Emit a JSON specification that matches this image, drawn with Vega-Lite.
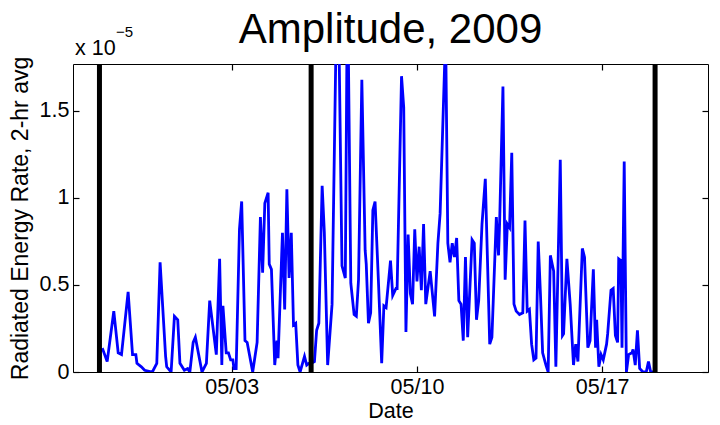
{
  "$schema": "https://vega.github.io/schema/vega-lite/v6.json",
  "width": 635,
  "height": 308,
  "autosize": {"type": "none"},
  "padding": {"left": 73, "top": 64, "right": 12, "bottom": 53},
  "config": {
    "font": "Liberation Sans",
    "view": {"stroke": "black", "strokeWidth": 1},
    "axis": {"domain": false, "grid": false, "offset": -6, "tickColor": "black", "tickSize": 6, "tickWidth": 1.2, "labelColor": "black", "labelFontSize": 21.5, "titleFontSize": 21.5, "titleFontWeight": "normal", "titleColor": "black", "labelFont": "Liberation Sans", "titleFont": "Liberation Sans"}
  },
  "datasets": {
    "energy": [
      {"t": "2009-04-28T00:00", "v": 0.12}, {"t": "2009-04-28T03:00", "v": 0.13}, {"t": "2009-04-28T07:00", "v": 0.06}, {"t": "2009-04-28T13:00", "v": 0.35}, {"t": "2009-04-28T17:00", "v": 0.11}, {"t": "2009-04-28T20:00", "v": 0.10},
      {"t": "2009-04-29T02:00", "v": 0.46}, {"t": "2009-04-29T06:00", "v": 0.10}, {"t": "2009-04-29T09:00", "v": 0.10}, {"t": "2009-04-29T10:00", "v": 0.05}, {"t": "2009-04-29T14:00", "v": 0.03}, {"t": "2009-04-29T17:00", "v": 0.01},
      {"t": "2009-04-30T00:00", "v": 0.0}, {"t": "2009-04-30T04:00", "v": 0.05}, {"t": "2009-04-30T07:00", "v": 0.63}, {"t": "2009-04-30T12:00", "v": 0.09}, {"t": "2009-04-30T13:00", "v": 0.03}, {"t": "2009-04-30T17:00", "v": 0.0}, {"t": "2009-04-30T20:00", "v": 0.32}, {"t": "2009-04-30T23:00", "v": 0.30},
      {"t": "2009-05-01T01:00", "v": 0.05}, {"t": "2009-05-01T05:00", "v": 0.01}, {"t": "2009-05-01T08:00", "v": 0.02}, {"t": "2009-05-01T10:00", "v": 0.0}, {"t": "2009-05-01T13:00", "v": 0.17}, {"t": "2009-05-01T15:00", "v": 0.20}, {"t": "2009-05-01T21:00", "v": 0.0},
      {"t": "2009-05-02T01:00", "v": 0.05}, {"t": "2009-05-02T04:00", "v": 0.41}, {"t": "2009-05-02T10:00", "v": 0.10}, {"t": "2009-05-02T13:00", "v": 0.65}, {"t": "2009-05-02T15:00", "v": 0.04}, {"t": "2009-05-02T16:00", "v": 0.38}, {"t": "2009-05-02T19:00", "v": 0.11}, {"t": "2009-05-02T21:00", "v": 0.11}, {"t": "2009-05-02T23:00", "v": 0.07},
      {"t": "2009-05-03T01:00", "v": 0.07}, {"t": "2009-05-03T02:00", "v": 0.02}, {"t": "2009-05-03T04:00", "v": 0.02}, {"t": "2009-05-03T07:00", "v": 0.82}, {"t": "2009-05-03T09:00", "v": 0.98}, {"t": "2009-05-03T12:00", "v": 0.18}, {"t": "2009-05-03T14:00", "v": 0.17}, {"t": "2009-05-03T19:00", "v": 0.0}, {"t": "2009-05-03T23:00", "v": 0.17},
      {"t": "2009-05-04T02:00", "v": 0.89}, {"t": "2009-05-04T04:00", "v": 0.57}, {"t": "2009-05-04T06:00", "v": 0.97}, {"t": "2009-05-04T09:00", "v": 1.03}, {"t": "2009-05-04T10:00", "v": 0.62}, {"t": "2009-05-04T12:00", "v": 0.59}, {"t": "2009-05-04T15:00", "v": 0.04}, {"t": "2009-05-04T17:00", "v": 0.18}, {"t": "2009-05-04T18:00", "v": 0.08}, {"t": "2009-05-04T22:00", "v": 0.80},
      {"t": "2009-05-05T00:00", "v": 0.36}, {"t": "2009-05-05T02:00", "v": 1.05}, {"t": "2009-05-05T04:00", "v": 0.54}, {"t": "2009-05-05T06:00", "v": 0.80}, {"t": "2009-05-05T08:00", "v": 0.27}, {"t": "2009-05-05T10:00", "v": 0.28}, {"t": "2009-05-05T12:00", "v": 0.04}, {"t": "2009-05-05T14:00", "v": 0.0}, {"t": "2009-05-05T18:00", "v": 0.09}, {"t": "2009-05-05T20:00", "v": 0.04}, {"t": "2009-05-05T22:00", "v": 0.05},
      {"t": "2009-05-06T00:00", "v": 0.05}, {"t": "2009-05-06T03:00", "v": 0.06}, {"t": "2009-05-06T05:00", "v": 0.24}, {"t": "2009-05-06T07:00", "v": 0.28}, {"t": "2009-05-06T10:00", "v": 1.07}, {"t": "2009-05-06T12:00", "v": 0.80}, {"t": "2009-05-06T15:00", "v": 0.04}, {"t": "2009-05-06T19:00", "v": 0.39},
      {"t": "2009-05-07T00:00", "v": 2.5}, {"t": "2009-05-07T04:00", "v": 0.61}, {"t": "2009-05-07T07:00", "v": 0.54}, {"t": "2009-05-07T09:00", "v": 2.3}, {"t": "2009-05-07T12:00", "v": 0.51}, {"t": "2009-05-07T15:00", "v": 0.33}, {"t": "2009-05-07T17:00", "v": 0.32}, {"t": "2009-05-07T19:00", "v": 0.53}, {"t": "2009-05-07T22:00", "v": 1.68},
      {"t": "2009-05-08T01:00", "v": 0.70}, {"t": "2009-05-08T02:00", "v": 0.62}, {"t": "2009-05-08T04:00", "v": 0.28}, {"t": "2009-05-08T06:00", "v": 0.34}, {"t": "2009-05-08T08:00", "v": 0.93}, {"t": "2009-05-08T10:00", "v": 0.98}, {"t": "2009-05-08T13:00", "v": 0.53}, {"t": "2009-05-08T16:00", "v": 0.05}, {"t": "2009-05-08T18:00", "v": 0.38}, {"t": "2009-05-08T20:00", "v": 0.37},
      {"t": "2009-05-09T00:00", "v": 0.64}, {"t": "2009-05-09T02:00", "v": 0.44}, {"t": "2009-05-09T05:00", "v": 0.48}, {"t": "2009-05-09T06:00", "v": 0.48}, {"t": "2009-05-09T10:00", "v": 1.70}, {"t": "2009-05-09T12:00", "v": 1.52}, {"t": "2009-05-09T14:00", "v": 0.23}, {"t": "2009-05-09T16:00", "v": 0.79}, {"t": "2009-05-09T18:00", "v": 0.45}, {"t": "2009-05-09T20:00", "v": 0.39}, {"t": "2009-05-09T22:00", "v": 0.82},
      {"t": "2009-05-10T00:00", "v": 0.52}, {"t": "2009-05-10T02:00", "v": 0.72}, {"t": "2009-05-10T04:00", "v": 0.47}, {"t": "2009-05-10T06:00", "v": 0.85}, {"t": "2009-05-10T08:00", "v": 0.39}, {"t": "2009-05-10T12:00", "v": 0.58}, {"t": "2009-05-10T16:00", "v": 0.32}, {"t": "2009-05-10T19:00", "v": 0.74}, {"t": "2009-05-10T21:00", "v": 0.91},
      {"t": "2009-05-11T02:00", "v": 1.95}, {"t": "2009-05-11T04:00", "v": 0.74}, {"t": "2009-05-11T06:00", "v": 0.63}, {"t": "2009-05-11T08:00", "v": 0.74}, {"t": "2009-05-11T10:00", "v": 0.66}, {"t": "2009-05-11T12:00", "v": 0.77}, {"t": "2009-05-11T14:00", "v": 0.41}, {"t": "2009-05-11T16:00", "v": 0.39}, {"t": "2009-05-11T18:00", "v": 0.18}, {"t": "2009-05-11T20:00", "v": 0.66}, {"t": "2009-05-11T22:00", "v": 0.20},
      {"t": "2009-05-12T02:00", "v": 0.76}, {"t": "2009-05-12T04:00", "v": 0.74}, {"t": "2009-05-12T06:00", "v": 0.30}, {"t": "2009-05-12T08:00", "v": 0.41}, {"t": "2009-05-12T11:00", "v": 0.85}, {"t": "2009-05-12T14:00", "v": 1.11}, {"t": "2009-05-12T18:00", "v": 0.16}, {"t": "2009-05-12T20:00", "v": 0.20},
      {"t": "2009-05-13T00:00", "v": 0.89}, {"t": "2009-05-13T02:00", "v": 0.67}, {"t": "2009-05-13T03:00", "v": 0.86}, {"t": "2009-05-13T06:00", "v": 1.64}, {"t": "2009-05-13T08:00", "v": 0.53}, {"t": "2009-05-13T10:00", "v": 0.85}, {"t": "2009-05-13T12:00", "v": 0.83}, {"t": "2009-05-13T14:00", "v": 1.26}, {"t": "2009-05-13T16:00", "v": 0.39}, {"t": "2009-05-13T18:00", "v": 0.35}, {"t": "2009-05-13T21:00", "v": 0.33},
      {"t": "2009-05-14T00:00", "v": 0.34}, {"t": "2009-05-14T02:00", "v": 0.87}, {"t": "2009-05-14T04:00", "v": 0.35}, {"t": "2009-05-14T06:00", "v": 0.36}, {"t": "2009-05-14T08:00", "v": 0.16}, {"t": "2009-05-14T10:00", "v": 0.07}, {"t": "2009-05-14T12:00", "v": 0.08}, {"t": "2009-05-14T14:00", "v": 0.75}, {"t": "2009-05-14T16:00", "v": 0.45}, {"t": "2009-05-14T18:00", "v": 0.11}, {"t": "2009-05-14T21:00", "v": 0.04}, {"t": "2009-05-14T23:00", "v": 0.0},
      {"t": "2009-05-15T01:00", "v": 0.67}, {"t": "2009-05-15T04:00", "v": 0.58}, {"t": "2009-05-15T06:00", "v": 0.03}, {"t": "2009-05-15T10:00", "v": 1.22}, {"t": "2009-05-15T12:00", "v": 0.21}, {"t": "2009-05-15T13:00", "v": 0.22}, {"t": "2009-05-15T16:00", "v": 0.65}, {"t": "2009-05-15T19:00", "v": 0.39}, {"t": "2009-05-15T22:00", "v": 0.04},
      {"t": "2009-05-16T00:00", "v": 0.16}, {"t": "2009-05-16T02:00", "v": 0.06}, {"t": "2009-05-16T06:00", "v": 0.71}, {"t": "2009-05-16T08:00", "v": 0.66}, {"t": "2009-05-16T11:00", "v": 0.14}, {"t": "2009-05-16T13:00", "v": 0.18}, {"t": "2009-05-16T16:00", "v": 0.59}, {"t": "2009-05-16T18:00", "v": 0.14}, {"t": "2009-05-16T19:00", "v": 0.30}, {"t": "2009-05-16T21:00", "v": 0.03}, {"t": "2009-05-16T23:00", "v": 0.10},
      {"t": "2009-05-17T01:00", "v": 0.07}, {"t": "2009-05-17T04:00", "v": 0.16}, {"t": "2009-05-17T05:00", "v": 0.22}, {"t": "2009-05-17T08:00", "v": 0.47}, {"t": "2009-05-17T10:00", "v": 0.48}, {"t": "2009-05-17T12:00", "v": 0.21}, {"t": "2009-05-17T14:00", "v": 0.17}, {"t": "2009-05-17T15:00", "v": 0.65}, {"t": "2009-05-17T17:00", "v": 0.64}, {"t": "2009-05-17T18:00", "v": 0.14}, {"t": "2009-05-17T20:00", "v": 1.21}, {"t": "2009-05-17T22:00", "v": 0.0},
      {"t": "2009-05-18T00:00", "v": 0.10}, {"t": "2009-05-18T03:00", "v": 0.11}, {"t": "2009-05-18T04:00", "v": 0.13}, {"t": "2009-05-18T06:00", "v": 0.04}, {"t": "2009-05-18T08:00", "v": 0.24}, {"t": "2009-05-18T10:00", "v": 0.02}, {"t": "2009-05-18T13:00", "v": 0.0}, {"t": "2009-05-18T16:00", "v": 0.0}, {"t": "2009-05-18T18:00", "v": 0.06}, {"t": "2009-05-18T20:00", "v": 0.0}, {"t": "2009-05-18T22:00", "v": 0.0},
      {"t": "2009-05-19T00:00", "v": 0.0}
    ],
    "markers": [
      {"t": "2009-04-28T00:00"}, {"t": "2009-05-06T00:00"}, {"t": "2009-05-19T00:00"}
    ],
    "note": [{"label": "x 10", "exp": "−5", "title": "Amplitude, 2009"}]
  },
  "resolve": {"axis": {"x": "independent", "y": "independent"}},
  "layer": [
    {
      "data": {"name": "energy"},
      "mark": {"type": "line", "color": "#0000FF", "strokeWidth": 2.8, "clip": true},
      "encoding": {
        "x": {"field": "t", "type": "temporal", "title": "Date",
              "scale": {"domain": [{"year": 2009, "month": 4, "date": 27}, {"year": 2009, "month": 5, "date": 21}]},
              "axis": {"orient": "bottom", "values": [{"year": 2009, "month": 5, "date": 3}, {"year": 2009, "month": 5, "date": 10}, {"year": 2009, "month": 5, "date": 17}], "format": "%m/%d", "labelPadding": 4, "titlePadding": 3}},
        "y": {"field": "v", "type": "quantitative", "title": "Radiated Energy Rate, 2-hr avg",
              "scale": {"domain": [0, 1.77], "nice": false, "zero": false},
              "axis": {"orient": "left", "values": [0, 0.5, 1, 1.5], "format": "~g", "labelPadding": 4, "titlePadding": 7, "titleFontSize": 23}}
      }
    },
    {
      "data": {"name": "markers"},
      "mark": {"type": "rule", "color": "black", "strokeWidth": 5},
      "encoding": {
        "x": {"field": "t", "type": "temporal",
              "axis": {"orient": "top", "values": [{"year": 2009, "month": 5, "date": 3}, {"year": 2009, "month": 5, "date": 10}, {"year": 2009, "month": 5, "date": 17}], "labels": false, "title": null}}
      }
    },
    {
      "data": {"name": "note"},
      "mark": {"type": "text", "align": "left", "baseline": "alphabetic", "fontSize": 21.5, "dx": 2, "dy": -9, "color": "black", "clip": false},
      "encoding": {
        "x": {"datum": {"year": 2009, "month": 4, "date": 27}, "type": "temporal", "axis": null},
        "y": {"datum": 1.77, "type": "quantitative", "axis": {"orient": "right", "values": [0, 0.5, 1, 1.5], "labels": false, "title": null}},
        "text": {"field": "label"}
      }
    },
    {
      "data": {"name": "note"},
      "mark": {"type": "text", "align": "left", "baseline": "alphabetic", "fontSize": 15, "dx": 43, "dy": -27, "color": "black", "clip": false},
      "encoding": {
        "x": {"datum": {"year": 2009, "month": 4, "date": 27}, "type": "temporal", "axis": null},
        "y": {"datum": 1.77, "type": "quantitative", "axis": null},
        "text": {"field": "exp"}
      }
    },
    {
      "data": {"name": "note"},
      "mark": {"type": "text", "align": "center", "baseline": "alphabetic", "fontSize": 42, "dy": -21, "color": "black", "clip": false},
      "encoding": {
        "x": {"datum": {"year": 2009, "month": 5, "date": 9}, "type": "temporal", "axis": null},
        "y": {"datum": 1.77, "type": "quantitative", "axis": null},
        "text": {"field": "title"}
      }
    }
  ]
}
